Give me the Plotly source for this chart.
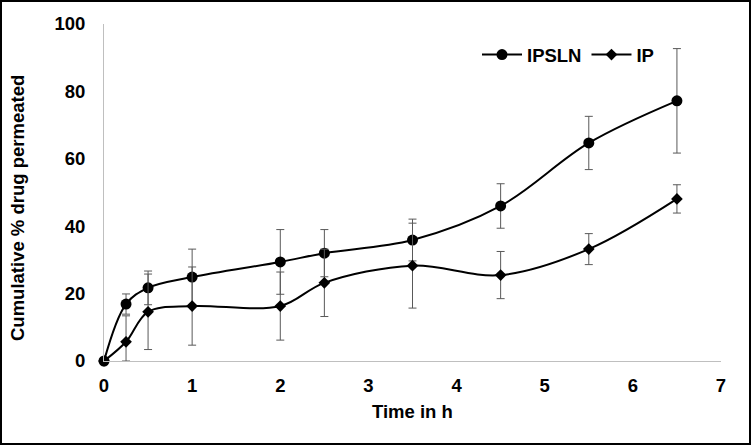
import plotly.graph_objects as go

time_h = [0, 0.25, 0.5, 1, 2, 2.5, 3.5, 4.5, 5.5, 6.5]
ipsln = [0, 16.9, 21.7, 24.9, 29.4, 32.0, 35.9, 46.0, 64.7, 77.2]
ipsln_err = [0, 3.0, 5.0, 8.3, 9.6, 7.0, 6.2, 6.6, 7.9, 15.5]
ip = [0, 5.7, 14.6, 16.3, 16.3, 23.2, 28.3, 25.5, 33.2, 48.1]
ip_err_plus = [0, 7.7, 11.2, 11.6, 10.1, 10.0, 12.6, 7.0, 4.6, 4.2]
ip_err_minus = [0, 5.7, 11.2, 11.6, 10.1, 10.0, 12.6, 7.0, 4.6, 4.2]
x_ticks = [0, 1, 2, 3, 4, 5, 6, 7]
y_ticks = [0, 20, 40, 60, 80, 100]

W, H = 752, 446
L, R, T, B = 104, 31, 24, 85
pw, ph = W - L - R, H - T - B

def px_x(p):
    return (p - L) / pw

def px_y(p):
    return (H - B - p) / ph

font_fam = "Liberation Sans, Arial, sans-serif"
FS = 18.5

fig = go.Figure()
fig.add_trace(go.Scatter(
    x=time_h, y=ipsln, name="IPSLN", mode="lines+markers",
    line=dict(color="black", width=2, shape="spline", smoothing=1),
    marker=dict(symbol="circle", size=11, color="black"),
    error_y=dict(type="data", array=ipsln_err, color="#595959", thickness=1, width=4),
    cliponaxis=False,
))
fig.add_trace(go.Scatter(
    x=time_h, y=ip, name="IP", mode="lines+markers",
    line=dict(color="black", width=2, shape="spline", smoothing=1),
    marker=dict(symbol="diamond", size=9, color="black"),
    error_y=dict(type="data", symmetric=False, array=ip_err_plus,
                 arrayminus=ip_err_minus, color="#595959", thickness=1, width=4),
    cliponaxis=False,
))

bold = dict(family=font_fam, size=FS, color="black", weight="bold")

fig.update_layout(
    width=W, height=H,
    margin=dict(l=L, r=R, t=T, b=B, autoexpand=False),
    paper_bgcolor="white", plot_bgcolor="white",
    font=bold,
    showlegend=True,
    legend=dict(orientation="h", x=px_x(477), y=px_y(55), xanchor="left", yanchor="middle",
                font=bold, bgcolor="rgba(0,0,0,0)", itemwidth=40, tracegroupgap=0),
    xaxis=dict(range=[0, 7], tickvals=x_ticks, showgrid=False, zeroline=False,
               showline=True, linecolor="#bfbfbf", linewidth=1, ticks="",
               ticklabelstandoff=8, tickfont=bold),
    yaxis=dict(range=[0, 100], tickvals=y_ticks, showgrid=False, zeroline=False,
               showline=True, linecolor="#bfbfbf", linewidth=1, ticks="",
               ticklabelstandoff=14, tickfont=bold),
    annotations=[
        dict(text="Time in h", xref="paper", yref="paper", x=0.5, y=px_y(411),
             xanchor="center", yanchor="middle", showarrow=False, font=bold),
        dict(text="Cumulative % drug permeated", xref="paper", yref="paper",
             x=px_x(17), y=px_y(208), xanchor="center", yanchor="middle",
             textangle=-90, showarrow=False, font=bold),
    ],
    shapes=[dict(type="rect", xref="paper", yref="paper",
                 x0=px_x(1), x1=px_x(750), y0=px_y(1), y1=px_y(444),
                 line=dict(color="black", width=2), layer="above")],
)

fig.write_html("out.html",
               config={"displayModeBar": False},
               post_script="document.body.style.margin='0';document.body.style.overflow='hidden';")
